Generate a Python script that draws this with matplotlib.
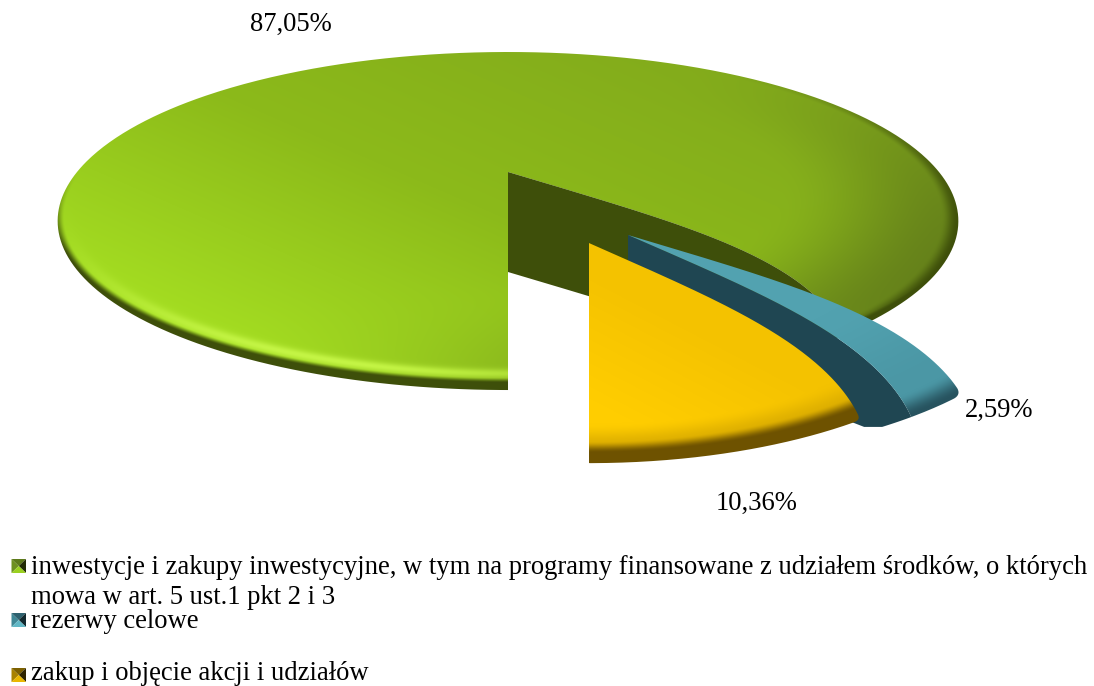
import numpy as np
import matplotlib
matplotlib.use("Agg")
import matplotlib.pyplot as plt
from matplotlib.colors import to_rgb
from matplotlib.path import Path
from matplotlib.patches import PathPatch

# ---- data ----
categories = ["inwestycje i zakupy inwestycyjne, w tym na programy finansowane z udziałem środków, o których\nmowa w art. 5 ust.1 pkt 2 i 3",
              "rezerwy celowe",
              "zakup i objęcie akcji i udziałów"]
values = [87.05, 2.59, 10.36]
pct_labels = ["87,05%", "2,59%", "10,36%"]
base_colors = ["#8cba1a", "#52a2b0", "#f4c200"]
wall_colors = ["#3e4f0a", "#1f4652", "#6e5200"]

# ---- view geometry (pixel canvas and perspective of the disc) ----
W, H = 1094, 686
X0, Y0 = 508.0, 172.0
K, A, R = 0.29, 154.8, 431.0

plt.rcParams["font.family"] = ["Liberation Serif", "DejaVu Serif"]
fig = plt.figure(figsize=(W / 100, H / 100), dpi=100)
ax = fig.add_axes([0, 0, 1, 1])
ax.set_axis_off()


def project(u, v, dx=0.0):
    w = 1 + K * v
    return X0 + dx + R * u / w, Y0 - A * v / w


def unproject(x, y, dx=0.0):
    s = (y - Y0) / A
    v = -s / (1 + K * s)
    u = (x - X0 - dx) * (1 + K * v) / R
    return u, v


def warp_green(rho):
    return 1.08 - 0.295 * rho ** 3.3


def warp_small(rho):
    return 1.145 - 0.287 * rho ** 3


def disc_pts(phi_deg, rho, v0, r0, dx, warp):
    phi = np.radians(phi_deg * warp(rho))
    return project(r0 * rho * np.sin(phi), v0 - r0 * rho * np.cos(phi), dx)


def smooth(a, b, x):
    t = np.clip((x - a) / (b - a), 0, 1)
    return t * t * (3 - 2 * t)


def rgb(c):
    return np.array(to_rgb(c))


def mix(c1, c2, t):
    c1 = rgb(c1) if isinstance(c1, str) else c1
    c2 = rgb(c2) if isinstance(c2, str) else c2
    return c1 * (1 - t[..., None]) + c2 * t[..., None]


def round_corner(xs, ys, cx, cy, radius):
    """Soften one corner of a closed outline around the point (cx, cy)."""
    xc, yc = np.r_[xs, xs[0]], np.r_[ys, ys[0]]
    s = np.r_[0, np.cumsum(np.hypot(np.diff(xc), np.diff(yc)))]
    t = np.arange(0, s[-1], 1.0)
    x, y = np.interp(t, s, xc), np.interp(t, s, yc)
    n = 2 * radius + 1
    kernel = np.ones(n) / n
    xm = np.convolve(np.r_[x[-radius:], x, x[:radius]], kernel, mode="valid")
    ym = np.convolve(np.r_[y[-radius:], y, y[:radius]], kernel, mode="valid")
    d = np.hypot(x - cx, y - cy)
    w = 1 - smooth(radius * 1.2, radius * 2.2, d)
    return x * (1 - w) + xm * w, y * (1 - w) + ym * w


def paint(xs, ys, shader, v0, r0, dx, zorder):
    """Per-pixel shaded top surface, clipped to the outline of the slice."""
    x0, x1 = int(xs.min()) - 2, int(xs.max()) + 3
    y0, y1 = int(ys.min()) - 2, int(ys.max()) + 3
    X, Y = np.meshgrid(np.arange(x0, x1) + .5, np.arange(y0, y1) + .5)
    u, v = unproject(X, Y, dx)
    du, dv = u, v - v0
    d = np.hypot(du, dv) + 1e-9
    img = np.clip(shader(X, Y, d / r0, du / d, dv / d), 0, 1)
    im = ax.imshow(img, extent=(x0, x1, y1, y0), interpolation="bilinear",
                   aspect="auto", zorder=zorder)
    path = Path(np.column_stack([xs, ys]))
    im.set_clip_path(PathPatch(path, transform=ax.transData))


def green_shader(X, Y, rho, nu, nv):
    t = (X - X0) / 450 * .75 - (Y - 220) / 170 * .65
    col = np.where((t < 0)[..., None],
                   mix("#8cba1a", "#a6e022", np.clip(-t, 0, 1)),
                   mix("#8cba1a", "#82aa1c", np.clip(t, 0, 1)))
    front = np.clip(-nv, 0, 1)
    right = np.clip(.85 * nu - .53 * nv, 0, 1) ** 2
    col = mix(col, "#66821a", smooth(.62, .99, rho) * right)
    hl = np.clip(-.35 * nu - .94 * nv, 0, 1) ** 7
    hc = 1 - .01 - .045 * front ** 1.5
    col = mix(col, "#c4f545", np.exp(-((rho - hc) / .016) ** 2) * hl)
    edge = 1 - .006 - .03 * front ** 2
    band = np.maximum(smooth(edge - .006, edge + .012, rho) * np.clip(front * 2.2, 0, 1),
                      smooth(.965, .998, rho) * right)
    return mix(col, wall_colors[0], band)


def teal_shader(X, Y, rho, nu, nv):
    col = mix(base_colors[1], "#4b97a5", smooth(.6, .93, rho))
    return mix(col, "#27535f", smooth(.93, .995, rho))


def yellow_shader(X, Y, rho, nu, nv):
    t = np.clip((Y - 300) / 130 - (X - 650) / 250, 0, 1)
    col = mix(base_colors[2], "#ffcd00", t)
    col = mix(col, "#d9ab00", smooth(.86, .945, rho) * .9)
    return mix(col, wall_colors[2], smooth(.925, .965, rho))


# ---- slices: angles come from the values ----
sweep = [v / sum(values) * 360 for v in values]
phi_yellow = sweep[2]
phi_teal = phi_yellow + sweep[1]
rho_line = np.linspace(0, 1, 120)

# large slice
ex, ey = disc_pts(phi_teal, rho_line, 0.0, 1.0, 0.0, warp_green)
arc_start = phi_teal * warp_green(1.0)
arc = np.linspace(arc_start, 360, 500)
ax_, ay_ = project(np.sin(np.radians(arc)), -np.cos(np.radians(arc)))
paint(np.r_[ex, ax_], np.r_[ey, ay_], green_shader, 0.0, 1.0, 0.0, 1)
keep = rho_line <= .97
ax.fill(np.r_[ex[keep], ex[keep][::-1]], np.r_[ey[keep], ey[keep][::-1] + 100],
        color=wall_colors[0], lw=0, zorder=2)

# teal slice
v_t, r_t, dx_t = -0.364, 0.85, 120.0
lx, ly = disc_pts(phi_yellow, rho_line, v_t, r_t, dx_t, warp_small)
ux, uy = disc_pts(phi_teal, rho_line, v_t, r_t, dx_t, warp_small)
end_l, end_u = phi_yellow * warp_small(1.0), phi_teal * warp_small(1.0)
a_t = np.linspace(end_u, end_l, 40)
rx, ry = project(r_t * np.sin(np.radians(a_t)), v_t - r_t * np.cos(np.radians(a_t)), dx_t)
a_w = np.linspace(end_l, 28.0, 40)
wx, wy = project(r_t * np.sin(np.radians(a_w)), v_t - r_t * np.cos(np.radians(a_w)), dx_t)
wall_x = np.r_[lx, wx, wx[-1] - 18, lx[0]]
wall_y = np.r_[ly, wy, wy[-1], ly[0] + 100]
ax.fill(wall_x, wall_y, color=wall_colors[1], lw=0, zorder=3)
tx, ty = round_corner(np.r_[ux, rx, lx[::-1]], np.r_[uy, ry, ly[::-1]], ux[-1], uy[-1], 9)
paint(tx, ty, teal_shader, v_t, r_t, dx_t, 4)

# yellow slice
v_y, r_y, dx_y = -0.405, 0.812, 81.0
yx, yy = disc_pts(phi_yellow, rho_line, v_y, r_y, dx_y, warp_small)
a_y = np.linspace(phi_yellow * warp_small(1.0), 0, 120)
bx, by = project(r_y * np.sin(np.radians(a_y)), v_y - r_y * np.cos(np.radians(a_y)), dx_y)
yox, yoy = round_corner(np.r_[yx, bx], np.r_[yy, by], yx[-1], yy[-1], 6)
paint(yox, yoy, yellow_shader, v_y, r_y, dx_y, 5)

# ---- percentage labels ----
label_pos = [(291, 24), (999, 410), (757, 503)]
for txt, (lxp, lyp) in zip(pct_labels, label_pos):
    ax.text(lxp, lyp, txt, fontsize=19.2, ha="center", va="center", color="black", zorder=6)

# ---- legend ----
marker_faces = [("#6e9020", "#5d7a1a", "#232c06", "#9ad020"),
                ("#3f8896", "#2e6270", "#12292f", "#62b8c6"),
                ("#a88200", "#7c6000", "#2e2400", "#eab800")]
legend_y = [566, 620, 675]
baseline_y = [573.5, 627.5, 679.5]
line_offsets = [0, 31]
for name, yc, yb_text, (cl, ct, cr, cb) in zip(categories, legend_y, baseline_y, marker_faces):
    xa, xb, ya, yb = 11.5, 26, yc - 7, yc + 7
    xm, ym = (xa + xb) / 2, (ya + yb) / 2
    ax.fill([xa, xm, xa], [ya, ym, yb], color=cl, lw=0, zorder=6)
    ax.fill([xa, xm, xb], [ya, ym, ya], color=ct, lw=0, zorder=6)
    ax.fill([xb, xm, xb], [ya, ym, yb], color=cr, lw=0, zorder=6)
    ax.fill([xa, xm, xb], [yb, ym, yb], color=cb, lw=0, zorder=6)
    for line, off in zip(name.split("\n"), line_offsets):
        ax.text(31, yb_text + off, line, fontsize=19.2, ha="left", va="baseline",
                color="black", zorder=6)

ax.set_xlim(0, W)
ax.set_ylim(H, 0)
fig.savefig("out.png", dpi=100, facecolor="white")
